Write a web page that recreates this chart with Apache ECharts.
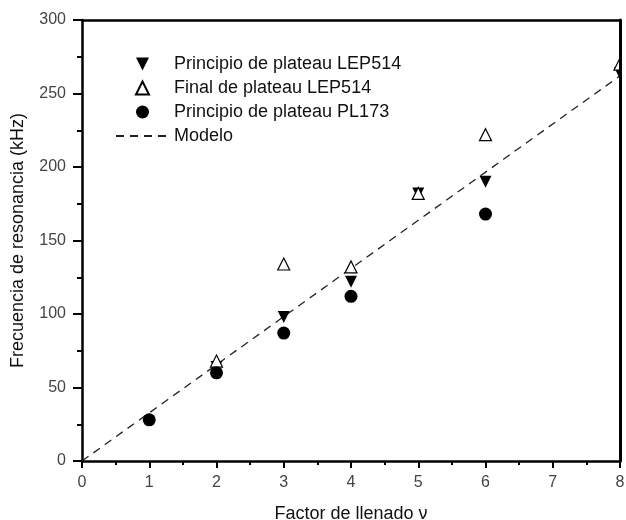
<!DOCTYPE html>
<html>
<head>
<meta charset="utf-8">
<script src="https://cdn.jsdelivr.net/npm/echarts@6/dist/echarts.min.js"></script>
<style>
  html, body { margin: 0; padding: 0; background: #fff; }
  #myChart { width: 626px; height: 520px; }
</style>
</head>
<body>
<div id="myChart"></div>
<script>
// datos
const xTicks = [0, 1, 2, 3, 4, 5, 6, 7, 8];
const yTicks = [0, 50, 100, 150, 200, 250, 300];

// Principio de plateau LEP514
const nuInicioLEP = [2, 3, 4, 5, 6, 8];
const fInicioLEP = [64, 98, 122, 182, 190, 264];
// Final de plateau LEP514
const nuFinalLEP = [2, 3, 4, 5, 6, 8];
const fFinalLEP = [68, 134, 132, 182, 222, 270];
// Principio de plateau PL173
const nuInicioPL = [1, 2, 3, 4, 6];
const fInicioPL = [28, 60, 87, 112, 168];
// Modelo
const nuModelo = [0, 8];
const fModelo = [0, 262];

const pares = (xs, ys) => xs.map((x, i) => [x, ys[i]]);

const font = 'Liberation Sans, Arial, sans-serif';
const trianguloAbajo = 'path://M0,0 L10,0 L5,10 Z';
const trianguloArriba = 'path://M5,0 L10,10 L0,10 Z';

let myChart = echarts.init(document.getElementById('myChart'), null, { renderer: 'canvas' });

const option = {
  animation: false,
  backgroundColor: '#fff',
  grid: { left: 82, right: 6, top: 20, bottom: 59, containLabel: false, outerBoundsMode: 'none' },
  legend: {
    orient: 'vertical',
    left: 110,
    top: 50,
    itemWidth: 53,
    itemHeight: 13,
    itemGap: 6,
    symbolKeepAspect: true,
    textStyle: { fontSize: 18, color: '#111', fontFamily: font },
    data: ['Principio de plateau LEP514', 'Final de plateau LEP514', 'Principio de plateau PL173', 'Modelo']
  },
  xAxis: [
    {
      type: 'value',
      min: xTicks[0],
      max: xTicks[xTicks.length - 1],
      interval: 1,
      name: 'Factor de llenado ν',
      nameLocation: 'middle',
      nameGap: 44,
      nameTextStyle: { fontSize: 18, color: '#111', fontFamily: font },
      axisLine: { onZero: false, lineStyle: { color: '#000', width: 2.5 } },
      axisTick: { length: 7, lineStyle: { color: '#000', width: 2 } },
      minorTick: { show: true, splitNumber: 2, length: 4, lineStyle: { color: '#000', width: 2 } },
      axisLabel: { fontSize: 16, color: '#444', fontFamily: font, margin: 14 },
      splitLine: { show: false }
    },
    {
      type: 'value',
      position: 'top',
      min: xTicks[0],
      max: xTicks[xTicks.length - 1],
      z: 10,
      axisLine: { onZero: false, lineStyle: { color: '#000', width: 2.5 } },
      axisTick: { show: false },
      axisLabel: { show: false },
      splitLine: { show: false }
    }
  ],
  yAxis: [
    {
      type: 'value',
      min: yTicks[0],
      max: yTicks[yTicks.length - 1],
      interval: 50,
      name: 'Frecuencia de resonancia (kHz)',
      nameLocation: 'middle',
      nameGap: 55,
      nameTextStyle: { fontSize: 18, color: '#111', fontFamily: font },
      axisLine: { onZero: false, lineStyle: { color: '#000', width: 2.5 } },
      axisTick: { length: 9, lineStyle: { color: '#000', width: 2 } },
      minorTick: { show: true, splitNumber: 2, length: 5, lineStyle: { color: '#000', width: 2 } },
      axisLabel: { fontSize: 16, color: '#444', fontFamily: font, margin: 16 },
      splitLine: { show: false }
    },
    {
      type: 'value',
      position: 'right',
      min: yTicks[0],
      max: yTicks[yTicks.length - 1],
      z: 10,
      axisLine: { onZero: false, lineStyle: { color: '#000', width: 3 } },
      axisTick: { show: false },
      axisLabel: { show: false },
      splitLine: { show: false }
    }
  ],
  // tapa lo que sobresale a la derecha del marco
  graphic: [
    {
      type: 'rect',
      right: 0,
      top: 0,
      z: 100,
      shape: { width: 4, height: 470 },
      style: { fill: '#fff' }
    }
  ],
  series: [
    {
      name: 'Principio de plateau LEP514',
      type: 'scatter',
      symbol: trianguloAbajo,
      symbolSize: 12,
      symbolKeepAspect: true,
      itemStyle: { color: '#000', opacity: 1 },
      data: pares(nuInicioLEP, fInicioLEP)
    },
    {
      name: 'Final de plateau LEP514',
      type: 'scatter',
      symbol: trianguloArriba,
      symbolSize: 12,
      symbolKeepAspect: true,
      itemStyle: { color: '#fff', borderColor: '#000', borderWidth: 1.2, opacity: 1 },
      data: pares(nuFinalLEP, fFinalLEP)
    },
    {
      name: 'Principio de plateau PL173',
      type: 'scatter',
      symbol: 'circle',
      symbolSize: 13,
      itemStyle: { color: '#000', opacity: 1 },
      data: pares(nuInicioPL, fInicioPL)
    },
    {
      name: 'Modelo',
      type: 'line',
      symbol: 'none',
      z: 1,
      itemStyle: { color: 'rgba(0,0,0,0)' },
      lineStyle: { color: '#222', width: 1.3, type: [8, 6] },
      data: pares(nuModelo, fModelo)
    }
  ]
};

myChart.setOption(option, true);
</script>
</body>
</html>
